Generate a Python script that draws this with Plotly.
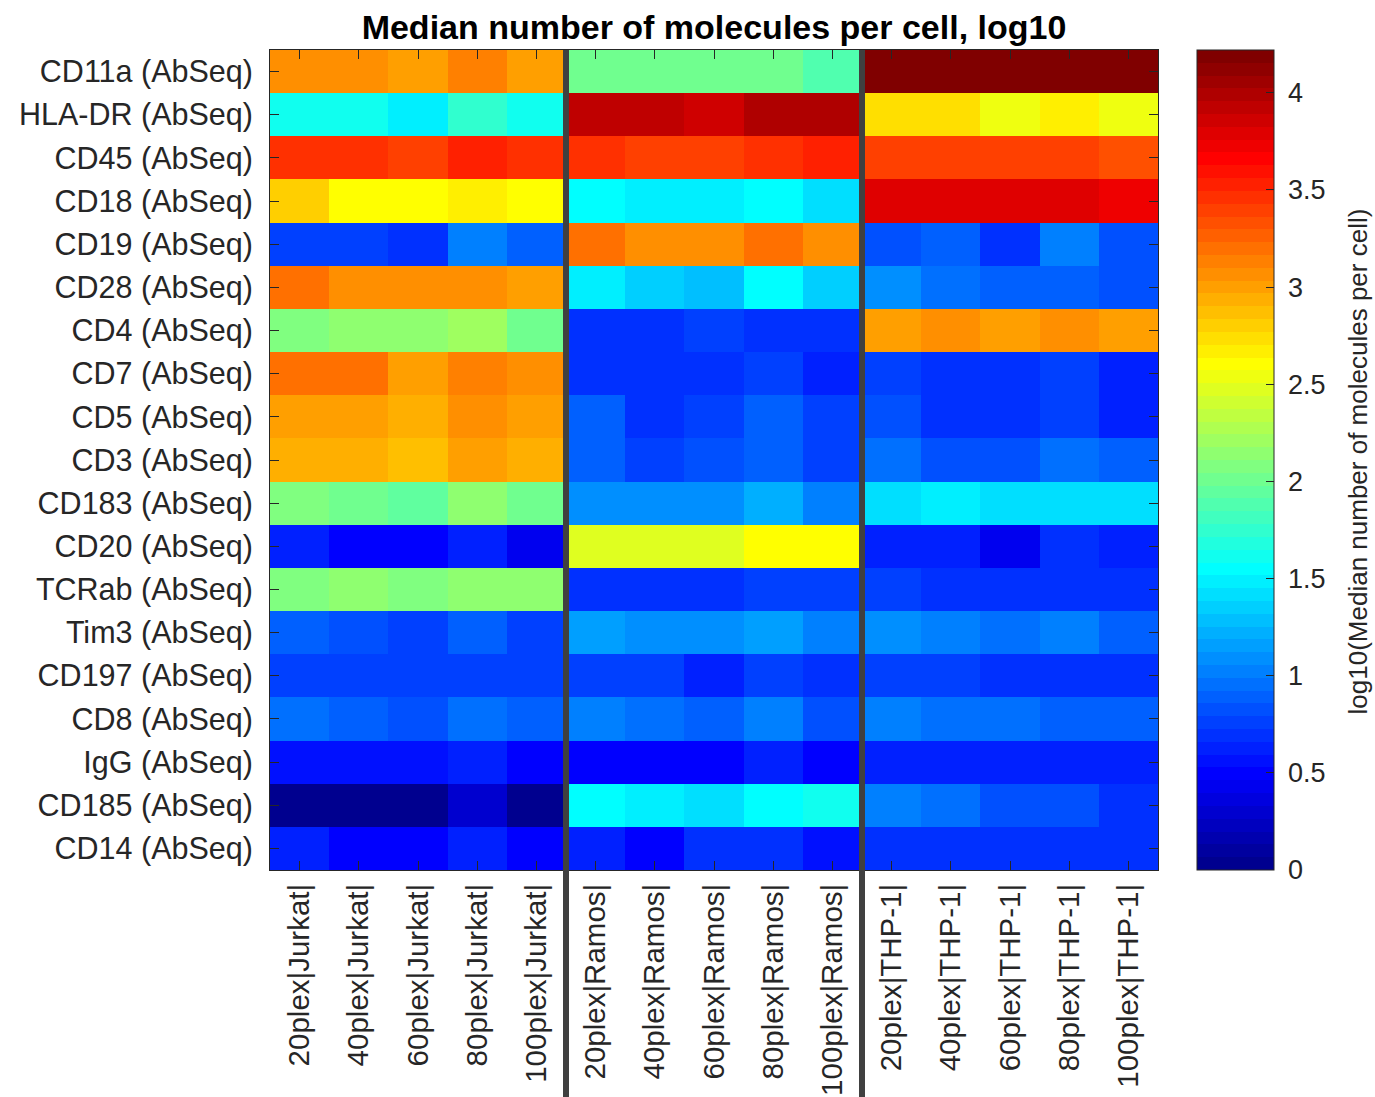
import numpy as np
import plotly.graph_objects as go

markers = ["CD11a (AbSeq)", "HLA-DR (AbSeq)", "CD45 (AbSeq)", "CD18 (AbSeq)", "CD19 (AbSeq)",
           "CD28 (AbSeq)", "CD4 (AbSeq)", "CD7 (AbSeq)", "CD5 (AbSeq)", "CD3 (AbSeq)",
           "CD183 (AbSeq)", "CD20 (AbSeq)", "TCRab (AbSeq)", "Tim3 (AbSeq)", "CD197 (AbSeq)",
           "CD8 (AbSeq)", "IgG (AbSeq)", "CD185 (AbSeq)", "CD14 (AbSeq)"]
plexes = ["20plex", "40plex", "60plex", "80plex", "100plex"]
cell_lines = ["Jurkat", "Ramos", "THP-1"]

jurkat = [
    [3.06, 3.06, 3.00, 3.13, 3.00],
    [1.61, 1.61, 1.48, 1.75, 1.61],
    [3.46, 3.46, 3.39, 3.53, 3.46],
    [2.77, 2.60, 2.60, 2.67, 2.62],
    [0.76, 0.76, 0.69, 1.02, 0.89],
    [3.20, 3.06, 3.06, 3.06, 3.00],
    [2.08, 2.14, 2.14, 2.21, 2.01],
    [3.20, 3.20, 3.00, 3.13, 3.06],
    [3.00, 3.00, 2.93, 3.06, 3.00],
    [2.93, 2.93, 2.87, 3.00, 2.93],
    [2.08, 2.01, 1.94, 2.14, 2.01],
    [0.63, 0.49, 0.49, 0.63, 0.46],
    [2.08, 2.14, 2.08, 2.14, 2.14],
    [0.89, 0.84, 0.76, 0.89, 0.79],
    [0.73, 0.73, 0.73, 0.76, 0.73],
    [0.96, 0.89, 0.82, 0.96, 0.89],
    [0.53, 0.53, 0.53, 0.63, 0.49],
    [0.03, 0.03, 0.03, 0.30, 0.02],
    [0.63, 0.49, 0.49, 0.63, 0.50],
]
ramos = [
    [2.04, 2.01, 2.01, 2.01, 1.88],
    [3.92, 3.92, 3.86, 3.99, 3.99],
    [3.46, 3.39, 3.39, 3.46, 3.53],
    [1.55, 1.48, 1.48, 1.55, 1.42],
    [3.20, 3.06, 3.06, 3.20, 3.06],
    [1.48, 1.35, 1.29, 1.55, 1.35],
    [0.69, 0.66, 0.76, 0.69, 0.72],
    [0.72, 0.69, 0.69, 0.76, 0.60],
    [0.89, 0.69, 0.76, 0.89, 0.76],
    [0.89, 0.76, 0.82, 0.89, 0.79],
    [1.09, 1.09, 1.09, 1.22, 1.05],
    [2.44, 2.47, 2.44, 2.60, 2.60],
    [0.72, 0.72, 0.72, 0.76, 0.76],
    [1.15, 1.09, 1.09, 1.15, 1.02],
    [0.73, 0.73, 0.63, 0.76, 0.66],
    [1.02, 0.96, 0.89, 1.02, 0.84],
    [0.49, 0.49, 0.49, 0.63, 0.49],
    [1.55, 1.48, 1.42, 1.55, 1.61],
    [0.63, 0.49, 0.66, 0.66, 0.53],
]
thp1 = [
    [4.19, 4.19, 4.19, 4.19, 4.19],
    [2.74, 2.74, 2.54, 2.67, 2.54],
    [3.39, 3.39, 3.39, 3.39, 3.33],
    [3.79, 3.79, 3.79, 3.79, 3.72],
    [0.82, 0.89, 0.72, 1.02, 0.84],
    [1.09, 0.96, 0.86, 0.89, 0.84],
    [3.00, 3.06, 3.00, 3.06, 3.00],
    [0.79, 0.69, 0.69, 0.73, 0.63],
    [0.82, 0.69, 0.69, 0.76, 0.63],
    [0.96, 0.84, 0.82, 0.96, 0.86],
    [1.42, 1.48, 1.42, 1.42, 1.42],
    [0.60, 0.60, 0.46, 0.66, 0.60],
    [0.76, 0.72, 0.72, 0.72, 0.72],
    [1.09, 1.02, 0.96, 1.02, 0.89],
    [0.73, 0.73, 0.69, 0.69, 0.69],
    [1.02, 0.96, 0.96, 0.89, 0.89],
    [0.60, 0.60, 0.60, 0.60, 0.60],
    [1.02, 0.96, 0.82, 0.82, 0.69],
    [0.69, 0.69, 0.69, 0.69, 0.69],
]
cmin, cmax = 0.0, 4.22
cbar_ticks = [0, 0.5, 1, 1.5, 2, 2.5, 3, 3.5, 4]

columns = [f"{p}|{c}|" for c in cell_lines for p in plexes]
z = np.hstack([np.array(jurkat), np.array(ramos), np.array(thp1)])


def jet(m=64):
    n = int(np.ceil(m / 4))
    u = np.concatenate([np.arange(1, n + 1) / n, np.ones(n - 1), np.arange(n, 0, -1) / n])
    g = int(np.ceil(n / 2)) - (1 if m % 4 == 1 else 0) + np.arange(1, len(u) + 1)
    r = g + n
    b = g - n
    J = np.zeros((m, 3))
    for ch, idx in enumerate([r, g, b]):
        for i, v in zip(idx, u):
            if 1 <= i <= m:
                J[i - 1, ch] = v
    return J


J = jet(64)
colorscale = []
for k, c in enumerate(J):
    col = f"rgb({int(round(c[0]*255))},{int(round(c[1]*255))},{int(round(c[2]*255))})"
    colorscale.append([k / 64, col])
    colorscale.append([(k + 1) / 64, col])

font_family = "Liberation Sans, Arial, Helvetica, sans-serif"
txt = "#262626"

fig = go.Figure(go.Heatmap(
    z=z, x=columns, y=markers,
    zmin=cmin, zmax=cmax, colorscale=colorscale,
    hoverongaps=False,
    colorbar=dict(
        x=1.044, xanchor="left", xpad=0, y=0.5, yanchor="middle", ypad=0,
        len=1, lenmode="fraction", thickness=77, thicknessmode="pixels",
        outlinewidth=1, outlinecolor=txt,
        tickvals=cbar_ticks, ticktext=["\u00a0" + f"{t:g}" for t in cbar_ticks],
        ticks="inside", ticklen=8, tickwidth=1, tickcolor=txt,
        tickfont=dict(family=font_family, size=27, color=txt),
    ),
))

n_cols = len(columns)
boundaries = [k * len(plexes) / n_cols for k in range(1, len(cell_lines))]
for bx in boundaries:
    fig.add_shape(type="line", xref="x domain", yref="paper",
                  x0=bx, x1=bx, y0=1, y1=-0.35,
                  line=dict(color="#404040", width=6), layer="above")

fig.add_annotation(
    text="log10(Median number of molecules per cell)", textangle=-90,
    xref="paper", yref="paper", x=1.225, y=0.498,
    xanchor="center", yanchor="middle", showarrow=False,
    font=dict(family=font_family, size=26, color=txt),
)

fig.update_layout(
    width=1375, height=1097,
    margin=dict(l=270, r=217, t=50, b=227),
    paper_bgcolor="white", plot_bgcolor="white",
    font=dict(family=font_family, color=txt),
    title=dict(text="<b>Median number of molecules per cell, log10</b>",
               x=0.5, xref="paper", xanchor="center",
               y=1 - 27 / 1097, yref="container", yanchor="middle",
               font=dict(family=font_family, size=34, color="black")),
)
fig.update_xaxes(
    tickangle=-90, tickfont=dict(family=font_family, size=29.5, color=txt),
    ticks="inside", ticklen=9, tickwidth=1, tickcolor=txt,
    showline=True, linecolor=txt, linewidth=1, mirror="ticks",
    ticklabelstandoff=1, showgrid=False, zeroline=False, automargin=False,
)
fig.update_yaxes(
    autorange="reversed", tickfont=dict(family=font_family, size=30.5, color=txt),
    ticks="inside", ticklen=9, tickwidth=1, tickcolor=txt,
    showline=True, linecolor=txt, linewidth=1, mirror="ticks",
    ticklabelstandoff=10, showgrid=False, zeroline=False, automargin=False,
)

fig.write_html("out.html")
